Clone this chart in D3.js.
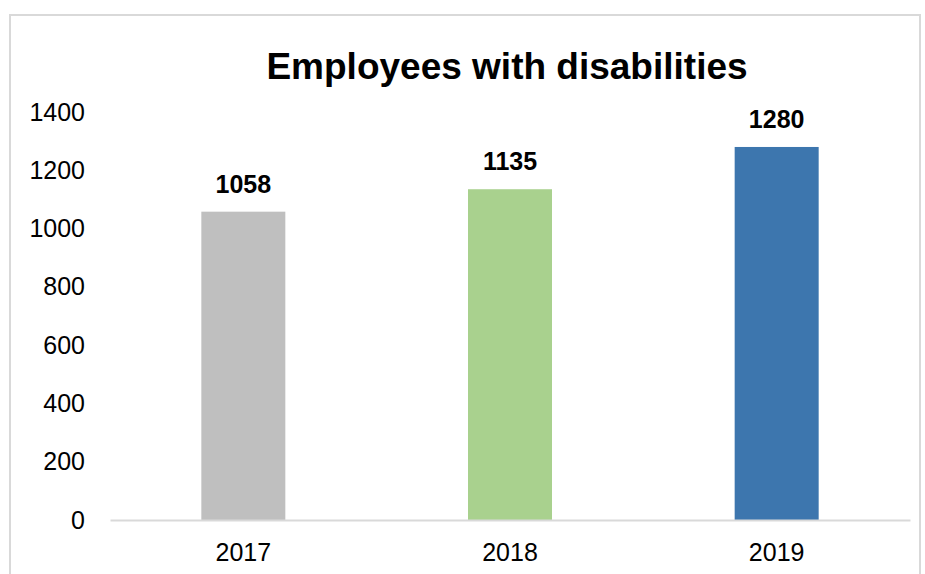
<!DOCTYPE html>
<html>
<head>
<meta charset="utf-8">
<script src="https://cdn.jsdelivr.net/npm/d3@7"></script>
<style>
  body { margin: 0; background: #fff; }
  svg { font-family: "Liberation Sans", Arial, sans-serif; }
</style>
</head>
<body>
<div id="chart"></div>
<script>
const years = ['2017', '2018', '2019'];
const employees = [1058, 1135, 1280];
const barColors = ['#bfbfbf', '#a9d18e', '#3d76ae'];
const yTicks = [0, 200, 400, 600, 800, 1000, 1200, 1400];

const width = 925, height = 574;
const margin = {top: 112, left: 110, right: 15, bottom: 54};

const svg = d3.select('#chart').append('svg')
    .attr('width', width)
    .attr('height', height);

// chart border
svg.append('rect')
    .attr('x', 10).attr('y', 15)
    .attr('width', 910).attr('height', 580)
    .attr('fill', 'none')
    .attr('stroke', '#d9d9d9')
    .attr('stroke-width', 2);

const x = d3.scaleBand()
    .domain(years)
    .range([margin.left, width - margin.right])
    .paddingInner(0.685)
    .paddingOuter(0.3425);

const y = d3.scaleLinear()
    .domain([0, 1400])
    .range([height - margin.bottom, margin.top]);

svg.append('text')
    .attr('x', 507).attr('y', 79)
    .attr('text-anchor', 'middle')
    .style('font-size', '37px')
    .style('font-weight', 'bold')
    .text('Employees with disabilities');

// y axis labels, no line
const yAxis = svg.append('g')
    .attr('transform', `translate(${margin.left},0)`)
    .call(d3.axisLeft(y).tickValues(yTicks).tickFormat(d3.format('d')).tickSize(0).tickPadding(25));
yAxis.select('.domain').remove();
yAxis.selectAll('text')
    .style('font-size', '25px')
    .style('font-family', '"Liberation Sans", Arial, sans-serif')
    .attr('fill', '#000');

svg.selectAll('rect.bar')
    .data(employees)
    .join('rect')
    .attr('class', 'bar')
    .attr('x', (d, i) => x(years[i]))
    .attr('y', d => y(d))
    .attr('width', x.bandwidth())
    .attr('height', d => y(0) - y(d))
    .attr('fill', (d, i) => barColors[i]);

// x axis
const xAxis = svg.append('g')
    .attr('transform', `translate(0,${y(0)})`)
    .call(d3.axisBottom(x).tickSize(0).tickPadding(23));
xAxis.select('.domain')
    .attr('stroke', '#d9d9d9')
    .attr('stroke-width', 2);
xAxis.selectAll('text')
    .style('font-size', '25px')
    .style('font-family', '"Liberation Sans", Arial, sans-serif')
    .attr('fill', '#000');

svg.selectAll('text.val')
    .data(employees)
    .join('text')
    .attr('class', 'val')
    .attr('x', (d, i) => x(years[i]) + x.bandwidth() / 2)
    .attr('y', d => y(d) - 19)
    .attr('text-anchor', 'middle')
    .style('font-size', '25px')
    .style('font-weight', 'bold')
    .text(d => d);
</script>
</body>
</html>
